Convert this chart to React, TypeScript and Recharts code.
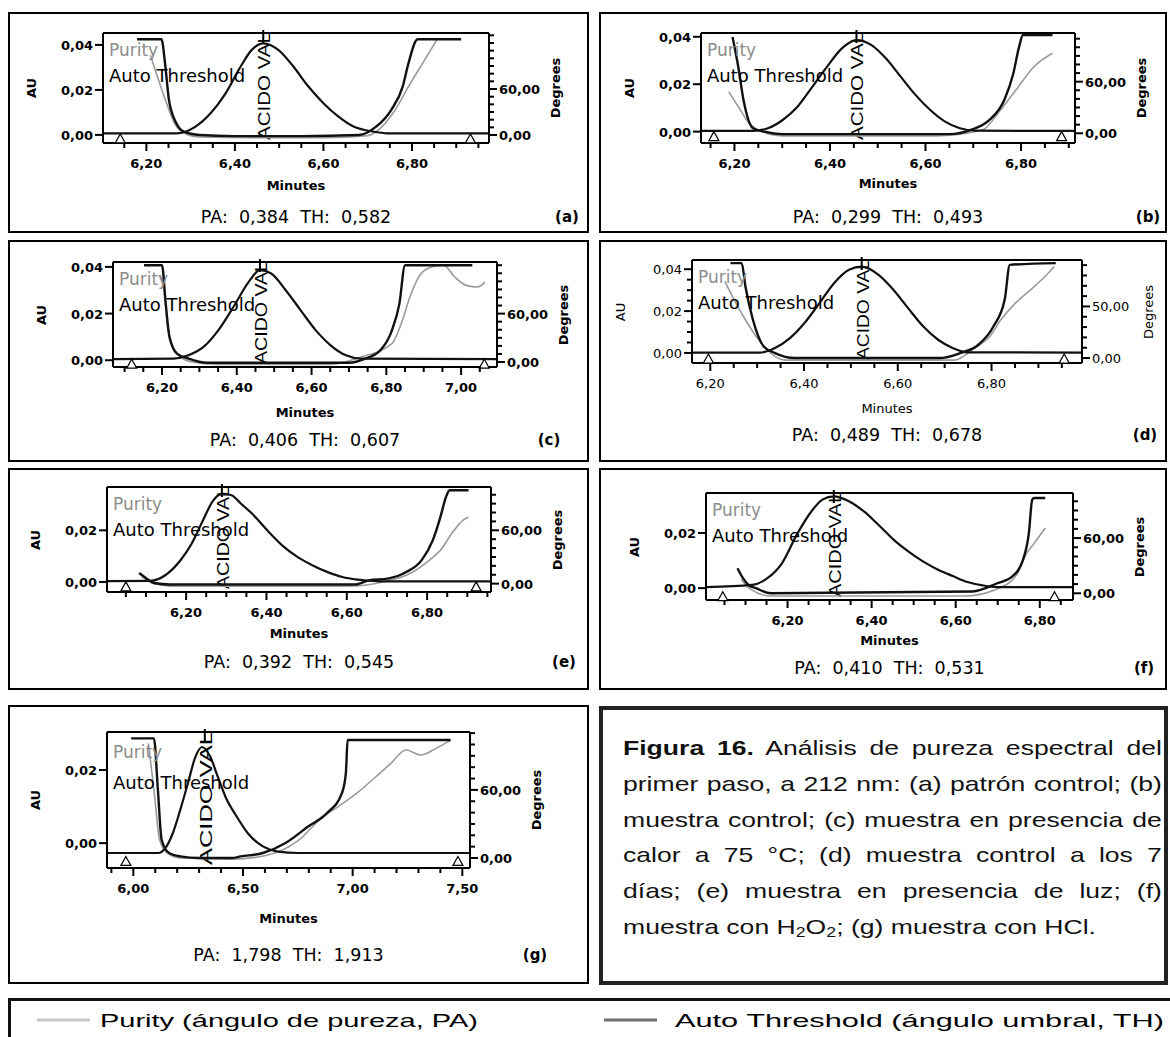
import React from 'react';
import { ComposedChart, Line, XAxis, YAxis, ReferenceLine, ReferenceDot } from 'recharts';

type Pt = [number, number];

// (a) patrón control: [minutes, AU] / [minutes, degrees]
const chromA: Pt[] = [[6.102, 0.0007], [6.268, 0.0007], [6.311, 0.0037], [6.345, 0.0096], [6.379, 0.0185], [6.413, 0.0304], [6.438, 0.0378], [6.464, 0.0407], [6.498, 0.0378], [6.532, 0.0304], [6.566, 0.0215], [6.6, 0.0141], [6.634, 0.0081], [6.668, 0.0037], [6.711, 0.0015], [6.745, 0.0007], [6.974, 0.0007]];
const thrA: Pt[] = [[6.179, 124.8], [6.234, 124.8], [6.243, 89], [6.251, 45.6], [6.268, 15], [6.285, 4.3], [6.32, 0], [6.4, -1.5], [6.55, -1.5], [6.68, 0], [6.719, 10.9], [6.753, 32.6], [6.779, 63], [6.792, 93.5], [6.813, 124.8], [6.911, 124.8]];
const purA: Pt[] = [[6.209, 104], [6.225, 76], [6.243, 45.6], [6.264, 15], [6.285, 2.6], [6.32, -2.5], [6.45, -3.5], [6.6, -3.5], [6.7, -1], [6.719, 4.3], [6.762, 32.6], [6.792, 63], [6.824, 93.5], [6.856, 124]];
const triA = [6.141, 6.932];

// (b) muestra control
const chromB: Pt[] = [[6.13, 0.0003], [6.239, 0.0003], [6.27, 0.0014], [6.301, 0.0049], [6.332, 0.0105], [6.363, 0.0189], [6.394, 0.0274], [6.425, 0.0351], [6.4555, 0.0386], [6.487, 0.0365], [6.517, 0.0309], [6.548, 0.0232], [6.579, 0.0155], [6.61, 0.0091], [6.641, 0.0042], [6.672, 0.0014], [6.703, 0.0004], [6.913, 0.0003]];
const thrB: Pt[] = [[6.196, 112], [6.208, 77.4], [6.219, 38.7], [6.239, 5.8], [6.262, 1.9], [6.3, -1], [6.65, -1], [6.695, 3.9], [6.734, 15.5], [6.765, 38.7], [6.784, 69.8], [6.796, 100.7], [6.804, 114.3], [6.866, 114.3]];
const purB: Pt[] = [[6.188, 48.4], [6.208, 31], [6.231, 11.6], [6.254, 3], [6.3, -3], [6.62, -3], [6.719, 3.9], [6.757, 27], [6.789, 50], [6.827, 77.4], [6.866, 93]];
const triB = [6.157, 6.885];

// (c) calor 75 °C
const chromC: Pt[] = [[6.069, 0.0005], [6.23, 0.0007], [6.271, 0.0021], [6.311, 0.0057], [6.351, 0.0129], [6.391, 0.0228], [6.432, 0.0336], [6.462, 0.0386], [6.492, 0.0372], [6.531, 0.03], [6.571, 0.0214], [6.611, 0.0129], [6.651, 0.0064], [6.692, 0.0021], [6.732, 0.0007], [7.096, 0.0005]];
const thrC: Pt[] = [[6.152, 120], [6.2, 120], [6.21, 72.4], [6.22, 31], [6.24, 10.4], [6.271, 4.2], [6.32, -1], [6.7, -1], [6.744, 4.2], [6.784, 14.5], [6.815, 39.3], [6.835, 72.4], [6.85, 120], [7.03, 120]];
const purC: Pt[] = [[6.195, 107.6], [6.205, 93], [6.215, 43.4], [6.24, 10.4], [6.28, 0], [6.35, -3], [6.65, -3], [6.732, 6.2], [6.815, 22.8], [6.843, 51.7], [6.863, 80.6], [6.893, 109.7], [6.923, 118], [6.953, 120], [6.983, 105.4], [7.014, 95], [7.044, 93], [7.064, 99]];
const triC = [6.119, 7.062];

// (d) control a los 7 días
const chromD: Pt[] = [[6.161, 0.0002], [6.306, 0.0002], [6.338, 0.0024], [6.37, 0.0071], [6.401, 0.0143], [6.433, 0.0238], [6.464, 0.0333], [6.496, 0.0397], [6.523, 0.0412], [6.559, 0.0373], [6.591, 0.0301], [6.622, 0.0214], [6.654, 0.0127], [6.686, 0.0063], [6.717, 0.0024], [6.749, 0.0003], [6.993, 0.0002]];
const thrD: Pt[] = [[6.243, 92], [6.267, 92], [6.275, 69.3], [6.291, 37.1], [6.314, 11.2], [6.338, 4.8], [6.38, 0], [6.69, 0], [6.733, 4.8], [6.772, 12.9], [6.804, 30.6], [6.828, 56.4], [6.839, 90.3], [6.937, 92]];
const purD: Pt[] = [[6.231, 74.2], [6.251, 56.4], [6.275, 37.1], [6.298, 20.9], [6.321, 8], [6.36, -2], [6.72, -2], [6.764, 9.7], [6.796, 20.9], [6.82, 37.1], [6.851, 53.2], [6.883, 66.1], [6.914, 79], [6.934, 88.7]];
const triD = [6.196, 6.955];

// (e) luz
const chromE: Pt[] = [[6.003, 0.0003], [6.111, 0.0004], [6.148, 0.0026], [6.186, 0.0084], [6.214, 0.0149], [6.242, 0.0239], [6.265, 0.031], [6.289, 0.0342], [6.313, 0.0336], [6.336, 0.0304], [6.364, 0.0265], [6.402, 0.02], [6.439, 0.0142], [6.477, 0.0097], [6.514, 0.0065], [6.551, 0.0039], [6.589, 0.0019], [6.626, 0.0009], [6.664, 0.0004], [6.702, 0.0002], [6.959, 0.0002]];
const thrE: Pt[] = [[6.083, 11.9], [6.102, 5.6], [6.12, 0.7], [6.16, -1], [6.62, -1], [6.655, 3.7], [6.702, 5.6], [6.748, 13], [6.786, 26.2], [6.814, 48.7], [6.833, 74.9], [6.847, 97.4], [6.856, 105], [6.903, 105]];
const purE: Pt[] = [[6.09, 8], [6.12, 0], [6.18, -3], [6.6, -3], [6.7, 3], [6.76, 12], [6.805, 26.2], [6.833, 37.5], [6.861, 56.2], [6.889, 71.2], [6.903, 74.9]];
const triE = [6.05, 6.922];

// (f) H2O2
const chromF: Pt[] = [[6.006, 0.0004], [6.116, 0.0012], [6.152, 0.0036], [6.187, 0.0091], [6.222, 0.0194], [6.257, 0.0279], [6.283, 0.0321], [6.31, 0.0333], [6.346, 0.0315], [6.381, 0.0279], [6.416, 0.023], [6.452, 0.0176], [6.487, 0.0133], [6.522, 0.0097], [6.558, 0.0067], [6.593, 0.0044], [6.628, 0.0022], [6.664, 0.001], [6.699, 0.0004], [6.879, 0.0004]];
const thrF: Pt[] = [[6.081, 27.3], [6.094, 16.4], [6.107, 9], [6.125, 5.5], [6.16, 0], [6.64, 2], [6.699, 10.9], [6.734, 18.1], [6.76, 36.3], [6.774, 65.4], [6.782, 101.7], [6.787, 103.6], [6.813, 103.6]];
const purF: Pt[] = [[6.09, 15], [6.11, 5], [6.16, -3], [6.62, -3], [6.7, 5], [6.745, 20], [6.769, 43.6], [6.787, 54.5], [6.813, 70.9]];
const triF = [6.046, 6.835];

// (g) HCl
const chromG: Pt[] = [[5.88, -0.0027], [6.112, -0.0027], [6.15, -0.001], [6.18, 0.0027], [6.214, 0.0091], [6.249, 0.0164], [6.283, 0.0236], [6.313, 0.0263], [6.351, 0.0236], [6.385, 0.0182], [6.42, 0.0127], [6.471, 0.0073], [6.522, 0.0027], [6.591, -0.0009], [6.66, -0.0023], [6.75, -0.0027], [7.535, -0.0027]];
const thrG: Pt[] = [[5.99, 105.4], [6.094, 105.4], [6.112, 60], [6.129, 16.1], [6.163, 4.4], [6.214, 1.4], [6.3, 0], [6.45, 0], [6.489, 1.4], [6.591, 4.4], [6.694, 13.2], [6.797, 27.7], [6.883, 39.5], [6.951, 57.1], [6.969, 74.6], [6.977, 103.9], [7.446, 103.9]];
const purG: Pt[] = [[6.069, 101], [6.094, 60], [6.12, 16.1], [6.155, 4.4], [6.22, 0], [6.45, -1], [6.6, 2], [6.75, 15], [6.865, 36.5], [6.934, 45.3], [7.019, 57.1], [7.106, 71.6], [7.174, 83.4], [7.243, 95.1], [7.311, 90.7], [7.38, 96.6], [7.448, 103.9]];
const triG = [5.966, 7.48];

// peak apex (minutes) for the "ACIDO VAL" label
const apexTimes = [6.464, 6.4555, 6.462, 6.523, 6.289, 6.31, 6.326];
const paLabels = ['PA:  0,384  TH:  0,582', 'PA:  0,299  TH:  0,493', 'PA:  0,406  TH:  0,607', 'PA:  0,489  TH:  0,678', 'PA:  0,392  TH:  0,545', 'PA:  0,410  TH:  0,531', 'PA:  1,798  TH:  1,913'];
const letters = ['(a)', '(b)', '(c)', '(d)', '(e)', '(f)', '(g)'];

// ticks
const major62 = [6.2, 6.4, 6.6, 6.8];
const major62to70 = [6.2, 6.4, 6.6, 6.8, 7.0];
const majorG = [6.0, 6.5, 7.0, 7.5];
const ticksA = [6.15, 6.2, 6.25, 6.3, 6.35, 6.4, 6.45, 6.5, 6.55, 6.6, 6.65, 6.7, 6.75, 6.8, 6.85, 6.9, 6.95];
const ticksB = [6.15, 6.2, 6.25, 6.3, 6.35, 6.4, 6.45, 6.5, 6.55, 6.6, 6.65, 6.7, 6.75, 6.8, 6.85, 6.9];
const ticksC = [6.1, 6.15, 6.2, 6.25, 6.3, 6.35, 6.4, 6.45, 6.5, 6.55, 6.6, 6.65, 6.7, 6.75, 6.8, 6.85, 6.9, 6.95, 7.0, 7.05];
const ticksD = [6.2, 6.25, 6.3, 6.35, 6.4, 6.45, 6.5, 6.55, 6.6, 6.65, 6.7, 6.75, 6.8, 6.85, 6.9, 6.95];
const ticksE = [6.05, 6.1, 6.15, 6.2, 6.25, 6.3, 6.35, 6.4, 6.45, 6.5, 6.55, 6.6, 6.65, 6.7, 6.75, 6.8, 6.85, 6.9, 6.95];
const ticksF = [6.05, 6.1, 6.15, 6.2, 6.25, 6.3, 6.35, 6.4, 6.45, 6.5, 6.55, 6.6, 6.65, 6.7, 6.75, 6.8, 6.85];
const ticksG = [5.9, 6.0, 6.1, 6.2, 6.3, 6.4, 6.5, 6.6, 6.7, 6.8, 6.9, 7.0, 7.1, 7.2, 7.3, 7.4, 7.5];
const au3 = [0, 0.02, 0.04];
const au2 = [0, 0.02];
const auD = [0, 0.005, 0.01, 0.015, 0.02, 0.025, 0.03, 0.035, 0.04];
const deg90 = [0, 10, 20, 30, 40, 50, 60, 70, 80, 90];
const deg100 = [0, 10, 20, 30, 40, 50, 60, 70, 80, 90, 100];
const deg110 = [0, 10, 20, 30, 40, 50, 60, 70, 80, 90, 100, 110];
const deg120 = [0, 10, 20, 30, 40, 50, 60, 70, 80, 90, 100, 110, 120];
const deg130 = [0, 10, 20, 30, 40, 50, 60, 70, 80, 90, 100, 110, 120, 130];

const FONT = "'DejaVu Sans', sans-serif";
const ARIAL = "Arial, 'Liberation Sans', sans-serif";
const fmt = (v: number) => v.toFixed(2).replace('.', ',');
const has = (arr: number[], v: number) => arr.some((m) => Math.abs(m - v) < 1e-6);
const rows = (pts: Pt[]) => pts.map(([t, v]) => ({ t, v }));

const panels = [
  { box: [8, 12, 589, 233], plot: [103, 33, 489, 143], x: [6.102, 6.974], xt: ticksA, xm: major62, au: [-0.0036, 0.0453], aut: au3, aum: au3, deg: [-10.4, 133], dt: deg130, dm: [0, 60], chrom: chromA, thr: thrA, pur: purA, tri: triA, triY: -0.0018, minutesY: 185, paY: 217, letterX: 567 },
  { box: [599, 12, 1167, 233], plot: [701, 33, 1075, 143], x: [6.13, 6.913], xt: ticksB, xm: major62, au: [-0.0048, 0.0416], aut: au3, aum: au3, deg: [-11.3, 116.6], dt: deg110, dm: [0, 60], chrom: chromB, thr: thrB, pur: purB, tri: triB, triY: -0.0021, minutesY: 183, paY: 217, letterX: 1148 },
  { box: [8, 240, 589, 462], plot: [113, 262, 497, 367], x: [6.069, 7.096], xt: ticksC, xm: major62to70, au: [-0.0029, 0.0421], aut: au3, aum: au3, deg: [-6.2, 124], dt: deg120, dm: [0, 60], chrom: chromC, thr: thrC, pur: purC, tri: triC, triY: -0.0017, minutesY: 412, paY: 440, letterX: 549 },
  { box: [599, 240, 1167, 462], plot: [692, 260, 1082, 363], x: [6.161, 6.993], xt: ticksD, xm: major62, au: [-0.0048, 0.0444], aut: auD, aum: au3, deg: [-4.8, 95], dt: deg90, dm: [0, 50], chrom: chromD, thr: thrD, pur: purD, tri: triD, triY: -0.0029, minutesY: 408, paY: 435, letterX: 1145, regular: true },
  { box: [8, 468, 589, 690], plot: [107, 487, 491, 592], x: [6.003, 6.959], xt: ticksE, xm: major62, au: [-0.0039, 0.0368], aut: au2, aum: au2, deg: [-9.4, 108.7], dt: deg100, dm: [0, 60], chrom: chromE, thr: thrE, pur: purE, tri: triE, triY: -0.0019, minutesY: 633, paY: 662, letterX: 564 },
  { box: [599, 468, 1167, 690], plot: [706, 493, 1073, 600], x: [6.006, 6.879], xt: ticksF, xm: major62, au: [-0.0043, 0.0345], aut: au2, aum: au2, deg: [-7.3, 109], dt: deg100, dm: [0, 60], chrom: chromF, thr: thrF, pur: purF, tri: triF, triY: -0.0031, minutesY: 640, paY: 668, letterX: 1144 },
  { box: [8, 705, 589, 984], plot: [107, 732, 470, 868], x: [5.88, 7.535], xt: ticksG, xm: majorG, au: [-0.0068, 0.0304], aut: au2, aum: au2, deg: [-8.8, 111], dt: deg110, dm: [0, 60], chrom: chromG, thr: thrG, pur: purG, tri: triG, triY: -0.005, minutesY: 918, paY: 955, letterX: 535 },
];

function XTick({ x, y, payload, major, weight }: any) {
  const big = has(major, payload.value);
  return (
    <g>
      <line x1={x} x2={x} y1={y} y2={y + (big ? 8 : 5)} stroke="#000" strokeWidth={2} />
      {big && (
        <text x={x} y={y + 25} textAnchor="middle" fontFamily={FONT} fontWeight={weight} fontSize={13} fill="#000">
          {fmt(payload.value)}
        </text>
      )}
    </g>
  );
}

function YTick({ x, y, payload, major, weight, side }: any) {
  const big = has(major, payload.value);
  const s = side === 'left' ? -1 : 1;
  return (
    <g>
      <line x1={x} x2={x + s * (big ? 8 : 5)} y1={y} y2={y} stroke="#000" strokeWidth={2} />
      {big && (
        <text x={x + s * 10} y={y + 5} textAnchor={side === 'left' ? 'end' : 'start'} fontFamily={FONT} fontWeight={weight} fontSize={13} fill="#000">
          {fmt(payload.value)}
        </text>
      )}
    </g>
  );
}

function ApexLabel({ viewBox }: any) {
  if (!viewBox) return null;
  const { x, y, height } = viewBox;
  const bx = x + 7;
  const by = y + height - 3;
  return (
    <g>
      <line x1={x} x2={x} y1={y - 3} y2={y + 10} stroke="#000" strokeWidth={2} />
      <text x={bx} y={by} transform={`rotate(-90 ${bx} ${by})`} fontFamily={ARIAL} fontSize={17} textLength={height - 2} lengthAdjust="spacingAndGlyphs" fill="#000">
        ACIDO VAL
      </text>
    </g>
  );
}

function Triangle({ cx, cy }: any) {
  return <path d={`M${cx},${cy - 5} L${cx + 5},${cy + 4} L${cx - 5},${cy + 4} Z`} fill="#fff" stroke="#000" strokeWidth={1.2} />;
}

const abs = (left: number, top: number, extra: React.CSSProperties = {}): React.CSSProperties => ({
  position: 'absolute', left, top, transform: 'translate(-50%, -50%)', whiteSpace: 'pre', ...extra,
});

function Panel({ c, i }: { c: any; i: number }) {
  const [bl, bt, br, bb] = c.box;
  const [pl, pt, pr, pb] = c.plot;
  const w = br - bl;
  const h = bb - bt;
  const cx = (pl + pr) / 2;
  const cy = (pt + pb) / 2;
  const weight = c.regular ? 'normal' : 'bold';
  return (
    <>
      <div style={{ position: 'absolute', left: bl, top: bt, width: w, height: h, border: '2px solid #000', boxSizing: 'border-box' }} />
      <div style={{ position: 'absolute', left: bl, top: bt }}>
        <ComposedChart width={w} height={h} margin={{ top: pt - bt, right: 0, bottom: 0, left: 0 }}>
          <XAxis
            xAxisId="x" dataKey="t" type="number" domain={c.x} allowDataOverflow ticks={c.xt} interval={0}
            tickSize={0} tickMargin={0} tickLine={false} height={bb - pb}
            axisLine={{ stroke: '#000', strokeWidth: 2 }}
            tick={(p: any) => <XTick {...p} major={c.xm} weight={weight} />}
          />
          <YAxis
            yAxisId="au" orientation="left" type="number" domain={c.au} allowDataOverflow ticks={c.aut} interval={0}
            tickSize={0} tickMargin={0} tickLine={false} width={pl - bl}
            axisLine={{ stroke: '#000', strokeWidth: 2 }}
            tick={(p: any) => <YTick {...p} major={c.aum} weight={weight} side="left" />}
          />
          <YAxis
            yAxisId="deg" orientation="right" type="number" domain={c.deg} allowDataOverflow ticks={c.dt} interval={0}
            tickSize={0} tickMargin={0} tickLine={false} width={br - pr}
            axisLine={{ stroke: '#000', strokeWidth: 2 }}
            tick={(p: any) => <YTick {...p} major={c.dm} weight={weight} side="right" />}
          />
          <ReferenceLine xAxisId="x" yAxisId="au" y={c.au[1]} stroke="#000" strokeWidth={2} />
          <ReferenceLine xAxisId="x" yAxisId="au" x={apexTimes[i]} stroke="none" label={<ApexLabel />} />
          <Line xAxisId="x" yAxisId="deg" data={rows(c.pur)} dataKey="v" type="monotone" stroke="#9a9a9a" strokeWidth={1.6} dot={false} isAnimationActive={false} />
          <Line xAxisId="x" yAxisId="deg" data={rows(c.thr)} dataKey="v" type="monotone" stroke="#111" strokeWidth={2.4} dot={false} isAnimationActive={false} />
          <Line xAxisId="x" yAxisId="au" data={rows(c.chrom)} dataKey="v" type="monotone" stroke="#111" strokeWidth={2.2} dot={false} isAnimationActive={false} />
          {c.tri.map((t: number) => (
            <ReferenceDot key={t} xAxisId="x" yAxisId="au" x={t} y={c.triY} shape={<Triangle />} />
          ))}
        </ComposedChart>
      </div>
      <div style={abs(pl - 72, cy, { fontFamily: FONT, fontWeight: weight, fontSize: 13, transform: 'translate(-50%, -50%) rotate(-90deg)' })}>AU</div>
      <div style={abs(pr + 66, cy, { fontFamily: FONT, fontWeight: weight, fontSize: 13, transform: 'translate(-50%, -50%) rotate(-90deg)' })}>Degrees</div>
      <div style={abs(cx, c.minutesY, { fontFamily: FONT, fontWeight: weight, fontSize: 13 })}>Minutes</div>
      <div style={abs(cx, c.paY, { fontFamily: FONT, fontSize: 17.5 })}>{paLabels[i]}</div>
      <div style={abs(c.letterX, c.paY, { fontFamily: FONT, fontWeight: 'bold', fontSize: 15 })}>{letters[i]}</div>
      <div style={{ position: 'absolute', left: pl + 6, top: pt + (i === 6 ? 20 : 17), transform: 'translateY(-50%)', fontFamily: FONT, fontSize: 17, color: '#8c8c8c' }}>Purity</div>
      <div style={{ position: 'absolute', left: pl + 6, top: pt + (i === 6 ? 50 : 42), transform: 'translateY(-50%)', fontFamily: FONT, fontSize: 18, color: '#000' }}>Auto Threshold</div>
    </>
  );
}

const subStyle: React.CSSProperties = { fontSize: 14, verticalAlign: '-3px', lineHeight: 0 };
const captionLines = [
  <><b>Figura 16.</b> Análisis de pureza espectral del</>,
  <>primer paso, a 212 nm: (a) patrón control; (b)</>,
  <>muestra control; (c) muestra en presencia de</>,
  <>calor a 75 °C; (d) muestra control a los 7</>,
  <>días; (e) muestra en presencia de luz; (f)</>,
  <>muestra con H<sub style={subStyle}>2</sub>O<sub style={subStyle}>2</sub>; (g) muestra con HCl.</>,
];

export default function App() {
  return (
    <div style={{ position: 'absolute', left: 0, top: 0, width: 1170, height: 1037, overflow: 'hidden', background: '#fff' }}>
      {panels.map((c, i) => (
        <Panel key={i} c={c} i={i} />
      ))}
      <div style={{ position: 'absolute', left: 599, top: 706, width: 569, height: 279, border: '4px solid #222', boxSizing: 'border-box' }} />
      <div style={{ position: 'absolute', left: 623, top: 730, width: 426, transform: 'scaleX(1.265)', transformOrigin: '0 0', fontFamily: ARIAL, fontSize: 21, lineHeight: '35.8px', color: '#111' }}>
        {captionLines.map((ln, k) => (
          <div key={k} style={{ whiteSpace: 'nowrap', textAlign: 'justify', textAlignLast: k < captionLines.length - 1 ? 'justify' : 'left' }}>{ln}</div>
        ))}
      </div>
      <div style={{ position: 'absolute', left: 8, top: 998, width: 1200, height: 80, borderTop: '3px solid #111', borderLeft: '3px solid #111', boxSizing: 'border-box' }} />
      <svg style={{ position: 'absolute', left: 0, top: 1000 }} width={1170} height={37}>
        <line x1={37} x2={90} y1={20} y2={20} stroke="#c8c8c8" strokeWidth={3} />
        <text x={100} y={27} fontFamily={ARIAL} fontSize={19} textLength={378} lengthAdjust="spacingAndGlyphs" fill="#000">Purity (ángulo de pureza, PA)</text>
        <line x1={604} x2={657} y1={20} y2={20} stroke="#707070" strokeWidth={3} />
        <text x={675} y={27} fontFamily={ARIAL} fontSize={19} textLength={489} lengthAdjust="spacingAndGlyphs" fill="#000">Auto Threshold (ángulo umbral, TH)</text>
      </svg>
    </div>
  );
}
